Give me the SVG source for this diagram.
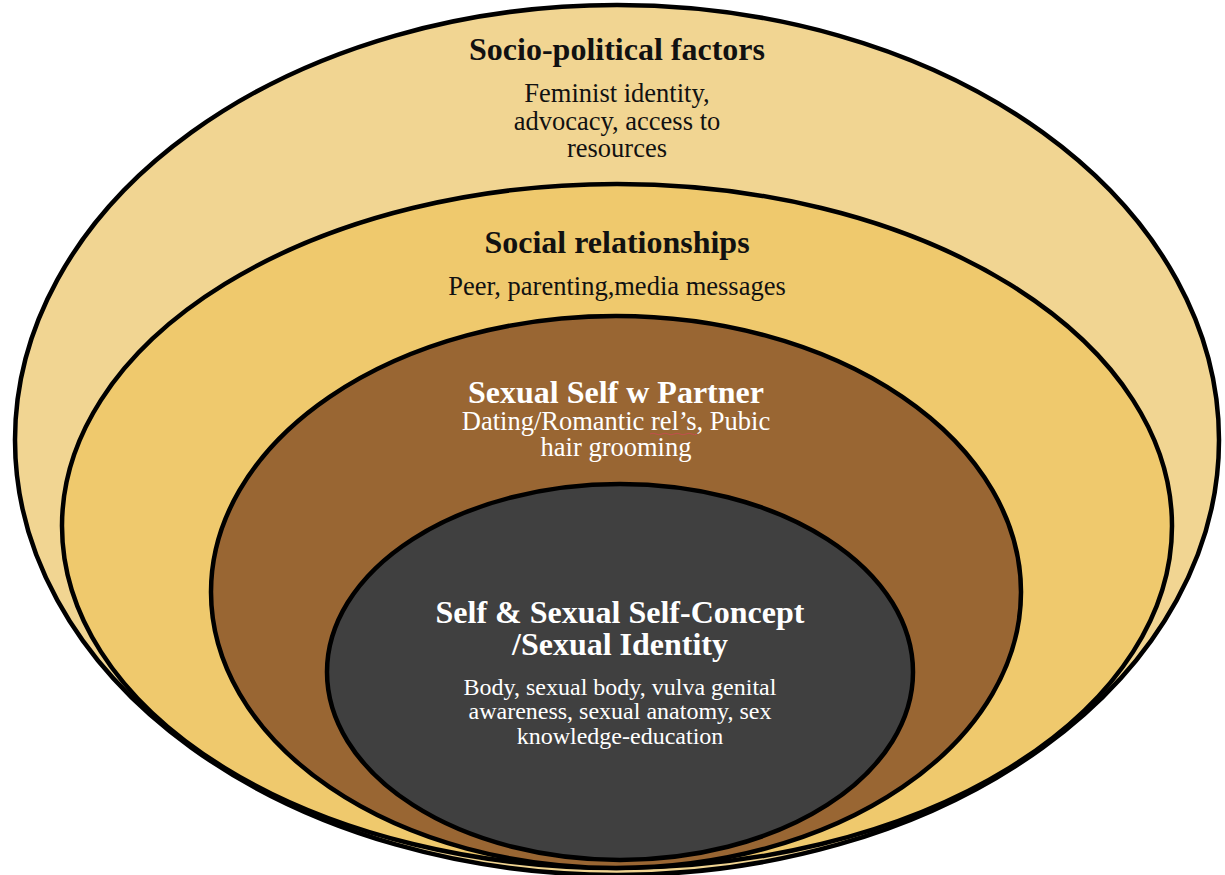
<svg xmlns="http://www.w3.org/2000/svg" width="1225" height="875" viewBox="0 0 1225 875">
  <style>
    .ring { stroke: #000; stroke-width: 4.5; }
    .title { font-family: "Liberation Serif", "Times New Roman", serif; font-weight: bold; font-size: 32px; text-anchor: middle; }
    .body { font-family: "Liberation Serif", "Times New Roman", serif; font-size: 26.5px; text-anchor: middle; }
    .small { font-size: 24px; }
    .dark { fill: #111; }
    .light { fill: #fff; }
  </style>
  <rect width="1225" height="875" fill="#fff"/>

  <g id="socio-political">
    <ellipse class="ring" cx="617" cy="440" rx="602" ry="435" fill="#F1D592"/>
    <text class="title dark" x="617" y="60">Socio-political factors</text>
    <text class="body dark" x="617" y="102">Feminist identity,</text>
    <text class="body dark" x="617" y="130">advocacy, access to</text>
    <text class="body dark" x="617" y="157">resources</text>
  </g>

  <g id="social-relationships">
    <ellipse class="ring" cx="617" cy="526" rx="555" ry="342" fill="#EFC96D"/>
    <text class="title dark" x="617" y="253">Social relationships</text>
    <text class="body dark" x="617" y="295">Peer, parenting,media messages</text>
  </g>

  <g id="sexual-self-partner">
    <ellipse class="ring" cx="616" cy="592" rx="405" ry="276" fill="#996633"/>
    <text class="title light" x="616" y="403">Sexual Self w Partner</text>
    <text class="body light" x="616" y="430">Dating/Romantic rel’s, Pubic</text>
    <text class="body light" x="616" y="456">hair grooming</text>
    <!-- proofing underline beneath rel’s -->
    <path d="M650 434 q3 -1.5 6 0 t6 0 t6 0 t6 0 t6 0 t6 0 t6 0 t5 0" fill="none" stroke="#C0504D" stroke-width="1"/>
  </g>

  <g id="sexual-self-concept">
    <ellipse class="ring" cx="620" cy="672" rx="293" ry="188" fill="#404040"/>
    <text class="title light" x="620" y="623">Self &amp; Sexual Self-Concept</text>
    <text class="title light" x="620" y="655">/Sexual Identity</text>
    <text class="body small light" x="620" y="695">Body, sexual body, vulva genital</text>
    <text class="body small light" x="620" y="719">awareness, sexual anatomy, sex</text>
    <text class="body small light" x="620" y="744">knowledge-education</text>
  </g>

  <g id="connectors"/>
</svg>
